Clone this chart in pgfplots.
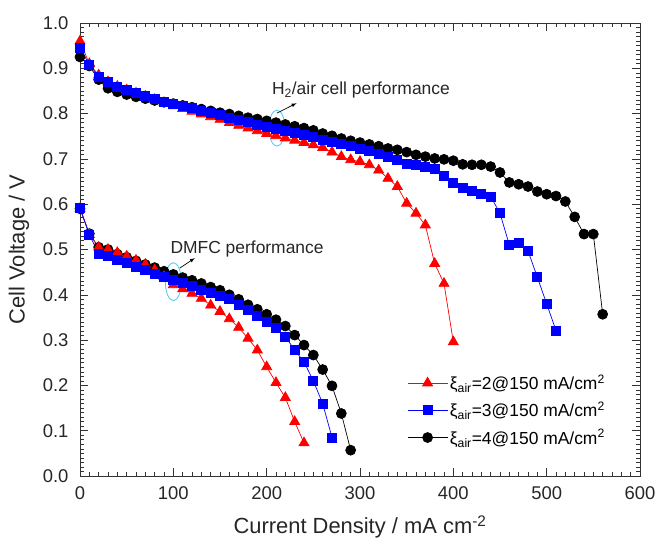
\documentclass[border=0pt]{standalone}
\usepackage{fontspec}
\setmainfont{Liberation Sans}
\usepackage{pgfplots}
\pgfplotsset{compat=1.18}

% H2/air data
\pgfplotstableread{
x y
0 0.960
10 0.910
20 0.885
30 0.870
40 0.860
50 0.852
60 0.845
70 0.838
80 0.831
90 0.824
100 0.817
110 0.811
120 0.805
130 0.799
140 0.793
150 0.787
160 0.780
170 0.774
180 0.768
190 0.762
200 0.756
210 0.751
220 0.746
230 0.741
240 0.736
250 0.731
260 0.725
270 0.715
280 0.705
290 0.698
300 0.694
310 0.687
320 0.675
330 0.657
340 0.639
350 0.602
360 0.580
370 0.554
380 0.469
390 0.425
400 0.296
}\hred

\pgfplotstableread{
x y
0 0.945
10 0.908
20 0.882
30 0.870
40 0.860
50 0.852
60 0.845
70 0.839
80 0.833
90 0.827
100 0.822
110 0.817
120 0.812
130 0.807
140 0.802
150 0.797
160 0.791
170 0.786
180 0.781
190 0.775
200 0.770
210 0.766
220 0.761
230 0.757
240 0.752
250 0.748
260 0.743
270 0.738
280 0.733
290 0.728
300 0.723
310 0.718
320 0.712
330 0.705
340 0.698
350 0.690
360 0.687
370 0.683
380 0.679
390 0.662
400 0.647
410 0.637
420 0.630
430 0.623
440 0.617
450 0.580
460 0.510
470 0.514
480 0.497
490 0.439
500 0.380
510 0.321
}\hblue

\pgfplotstableread{
x y
0 0.925
10 0.905
20 0.875
30 0.856
40 0.848
50 0.842
60 0.837
70 0.833
80 0.829
90 0.825
100 0.822
110 0.818
120 0.814
130 0.810
140 0.806
150 0.802
160 0.799
170 0.795
180 0.791
190 0.788
200 0.784
210 0.780
220 0.776
230 0.772
240 0.768
250 0.763
260 0.756
270 0.751
280 0.745
290 0.740
300 0.736
310 0.732
320 0.728
330 0.723
340 0.720
350 0.715
360 0.709
370 0.705
380 0.701
390 0.699
400 0.696
410 0.688
420 0.687
430 0.687
440 0.683
450 0.670
460 0.648
470 0.644
480 0.639
490 0.628
500 0.622
510 0.618
520 0.606
530 0.572
540 0.534
550 0.534
560 0.357
}\hblack

% DMFC data
\pgfplotstableread{
x y
0 0.590
10 0.533
20 0.505
30 0.500
40 0.493
50 0.485
60 0.476
70 0.467
80 0.455
90 0.440
100 0.422
110 0.413
120 0.403
130 0.392
140 0.377
150 0.363
160 0.347
170 0.328
180 0.304
190 0.278
200 0.241
210 0.206
220 0.173
230 0.120
240 0.073
}\dred

\pgfplotstableread{
x y
0 0.592
10 0.533
20 0.490
30 0.485
40 0.478
50 0.470
60 0.462
70 0.455
80 0.447
90 0.440
100 0.433
110 0.426
120 0.419
130 0.412
140 0.405
150 0.398
160 0.390
170 0.378
180 0.366
190 0.353
200 0.341
210 0.326
220 0.308
230 0.278
240 0.252
250 0.210
260 0.160
270 0.085
}\dblue

\pgfplotstableread{
x y
0 0.590
10 0.535
20 0.505
30 0.500
40 0.490
50 0.483
60 0.475
70 0.467
80 0.460
90 0.452
100 0.445
110 0.438
120 0.432
130 0.425
140 0.417
150 0.410
160 0.400
170 0.390
180 0.378
190 0.368
200 0.357
210 0.345
220 0.331
230 0.311
240 0.289
250 0.267
260 0.235
270 0.199
280 0.138
290 0.057
}\dblack

\begin{document}
\begin{tikzpicture}
\begin{axis}[
  scale only axis,
  width=560bp, height=453bp,
  xmin=0, xmax=600, ymin=0, ymax=1.0,
  xtick={0,100,...,600},
  ytick={0,0.1,...,1.0},
  minor x tick num=9,
  minor y tick num=9,
  tick align=inside,
  major tick length=8bp,
  minor tick length=4bp,
  every tick/.style={black!80, line width=0.6pt},
  axis line style={black!80, line width=0.8pt},
  yticklabel style={/pgf/number format/fixed, /pgf/number format/fixed zerofill, /pgf/number format/precision=1, /pgf/number format/assume math mode=true, xshift=-8bp},
  xticklabel style={/pgf/number format/assume math mode=true, yshift=-7bp},
  tick label style={font=\fontsize{18.5}{21}\selectfont, black!85},
  xlabel={Current Density / mA cm\textsuperscript{-2}},
  ylabel={Cell Voltage / V},
  label style={font=\fontsize{22}{25}\selectfont, black!85},
  xlabel style={at={(axis description cs:0.5,-0.1126)}, anchor=center},
  ylabel style={at={(axis description cs:-0.109,0.5)}, anchor=center},
  legend cell align=left,
  legend style={at={(rel axis cs:0.584,0.228)}, anchor=north west, draw=none, fill=none,
    font=\fontsize{17.5}{19}\selectfont, row sep=7bp, inner sep=0pt},
  legend image code/.code={\draw[#1, mark repeat=2, mark phase=2] plot coordinates {(0bp,0bp) (20bp,0bp) (40bp,0bp)};},
]
% H2/air
\addplot[black, line width=0.7pt, mark=*, mark size=5bp, forget plot] table {\hblack};
\addplot[red, line width=0.7pt, mark=triangle*, mark size=5.8bp, forget plot] table {\hred};
\addplot[blue, line width=0.7pt, mark=square*, mark size=4.5bp, forget plot] table {\hblue};
% DMFC
\addplot[black, line width=0.7pt, mark=*, mark size=5bp, forget plot] table {\dblack};
\addplot[red, line width=0.7pt, mark=triangle*, mark size=5.8bp, forget plot] table {\dred};
\addplot[blue, line width=0.7pt, mark=square*, mark size=4.5bp, forget plot] table {\dblue};

\addlegendimage{red, line width=0.7pt, mark=triangle*, mark size=5.8bp}
\addlegendentry{ξ\textsubscript{air}=2@150 mA/cm\textsuperscript{2}}
\addlegendimage{blue, line width=0.7pt, mark=square*, mark size=4.5bp}
\addlegendentry{ξ\textsubscript{air}=3@150 mA/cm\textsuperscript{2}}
\addlegendimage{black, line width=0.7pt, mark=*, mark size=5bp}
\addlegendentry{ξ\textsubscript{air}=4@150 mA/cm\textsuperscript{2}}

% annotations
\draw[cyan!70, line width=0.8pt] (axis cs:211,0.768) ellipse [x radius=8bp, y radius=18bp];
\draw[-latex, line width=0.7pt] (axis cs:211,0.801) -- (axis cs:232,0.823);
\node[font=\fontsize{17.5}{20}\selectfont, black!85] at (axis cs:301,0.852) {H\textsubscript{2}/air cell performance};
\draw[cyan!70, line width=0.8pt] (axis cs:100,0.429) ellipse [x radius=8bp, y radius=19bp];
\draw[-latex, line width=0.7pt] (axis cs:107,0.459) -- (axis cs:123,0.481);
\node[font=\fontsize{17.5}{20}\selectfont, black!85] at (axis cs:179,0.501) {DMFC performance};
\end{axis}
\pgfresetboundingbox
\path (-80bp,-66bp) rectangle (580bp,476bp);
\end{tikzpicture}
\end{document}
